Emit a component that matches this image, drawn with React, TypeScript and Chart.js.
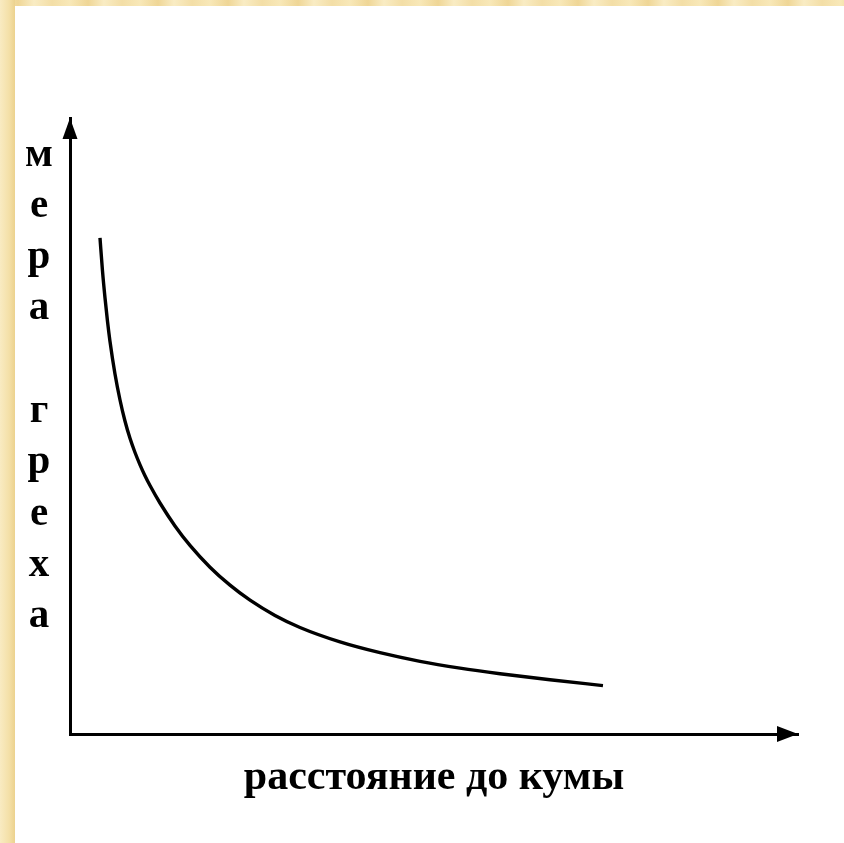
import React, { useEffect, useRef } from "react";
import { Chart, registerables } from "chart.js";

Chart.register(...registerables);

const distance = [4.12, 4.46, 4.81, 5.15, 5.49, 6.18, 6.87, 7.55, 8.24, 8.93, 9.62, 10.3, 10.99, 12.36, 14.42, 16.48, 19.23, 21.98, 24.73, 28.16, 31.59, 37.09, 42.58, 48.08, 53.57, 59.07, 65.93, 73.21];
const sinMeasure = [80.52, 75.24, 70.78, 67.0, 63.77, 58.44, 54.22, 50.81, 48.0, 45.7, 43.7, 41.93, 40.34, 37.5, 33.78, 30.62, 27.08, 24.16, 21.72, 19.24, 17.29, 14.95, 13.2, 11.8, 10.7, 9.79, 8.8, 7.86];
const yLetters = ["м", "е", "р", "а", "", "г", "р", "е", "х", "а"];
const xTitle = "расстояние до кумы";

const arrowPlugin = {
  id: "arrows",
  afterDraw(chart: any) {
    const { ctx, scales } = chart;
    const xs = scales.x;
    const ys = scales.y;
    const x0 = xs.getPixelForValue(xs.min);
    const y0 = ys.getPixelForValue(ys.min);
    const yTop = ys.getPixelForValue(ys.max);
    const xEnd = xs.getPixelForValue(xs.max);
    ctx.save();
    ctx.fillStyle = "#000";
    ctx.beginPath();
    ctx.moveTo(x0, yTop);
    ctx.lineTo(x0 - 7.5, yTop + 21);
    ctx.lineTo(x0 + 7.5, yTop + 21);
    ctx.closePath();
    ctx.fill();
    ctx.beginPath();
    ctx.moveTo(xEnd, y0);
    ctx.lineTo(xEnd - 21, y0 - 8);
    ctx.lineTo(xEnd - 21, y0 + 8);
    ctx.closePath();
    ctx.fill();
    ctx.restore();
  },
};

export default function App() {
  const ref = useRef<HTMLCanvasElement>(null);

  useEffect(() => {
    if (!ref.current) return;
    const chart = new Chart(ref.current, {
      type: "line",
      data: {
        datasets: [
          {
            data: distance.map((d, i) => ({ x: d, y: sinMeasure[i] })),
            borderColor: "#000",
            borderWidth: 3.4,
            pointRadius: 0,
            fill: false,
            cubicInterpolationMode: "monotone",
            borderCapStyle: "butt",
            borderJoinStyle: "round",
          },
        ],
      },
      options: {
        animation: false,
        responsive: false,
        devicePixelRatio: 1,
        layout: { padding: { left: 70, top: 118, right: 46, bottom: 109 } },
        plugins: { legend: { display: false }, tooltip: { enabled: false }, title: { display: false } },
        scales: {
          x: {
            type: "linear",
            min: 0,
            max: 100,
            grid: { display: false, drawTicks: false },
            ticks: { display: false },
            border: { display: true, color: "#000", width: 3 },
          },
          y: {
            type: "linear",
            min: 0,
            max: 100,
            grid: { display: false, drawTicks: false },
            ticks: { display: false },
            border: { display: true, color: "#000", width: 3 },
          },
        },
      },
      plugins: [arrowPlugin],
    } as any);
    return () => chart.destroy();
  }, []);

  const font = '"Liberation Serif", "Times New Roman", serif';

  return (
    <div
      style={{
        position: "fixed",
        left: 0,
        top: 0,
        width: 844,
        height: 843,
        background: "#fff",
        overflow: "hidden",
      }}
    >
      <div
        style={{
          position: "absolute",
          left: 0,
          top: 0,
          width: 844,
          height: 6,
          background:
            "repeating-linear-gradient(90deg, #f8e8b8 0px, #efd696 18px, #f9ecc4 34px, #f3dea6 52px, #f8e8b8 70px)",
        }}
      />
      <div
        style={{
          position: "absolute",
          left: 0,
          top: 0,
          width: 15,
          height: 843,
          background: "linear-gradient(90deg, #f9ebc2 0%, #f4e0a8 60%, #ecd28e 100%)",
        }}
      />
      <canvas ref={ref} width={844} height={843} style={{ position: "absolute", left: 0, top: 0 }} />
      <div
        style={{
          position: "absolute",
          left: 9,
          top: 126.5,
          width: 60,
          textAlign: "center",
          fontFamily: font,
          fontWeight: "bold",
          fontSize: 41,
          lineHeight: "51.3px",
          whiteSpace: "pre",
          color: "#000",
        }}
      >
        {yLetters.join("\n")}
      </div>
      <div
        style={{
          position: "absolute",
          left: 134,
          top: 754,
          width: 600,
          textAlign: "center",
          fontFamily: font,
          fontWeight: "bold",
          fontSize: 42,
          lineHeight: "42px",
          whiteSpace: "pre",
          color: "#000",
        }}
      >
        {xTitle}
      </div>
    </div>
  );
}
